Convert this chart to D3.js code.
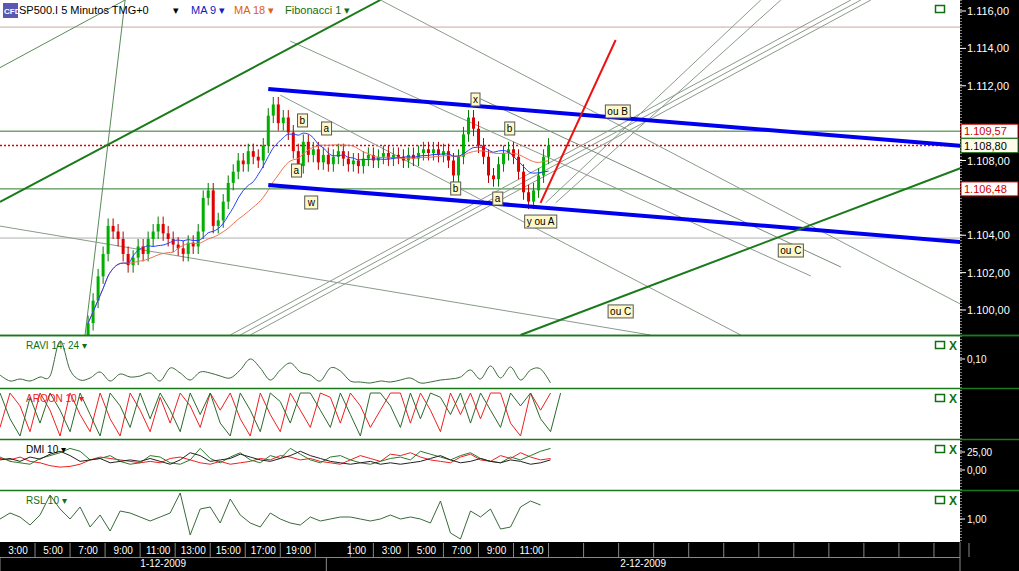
<!DOCTYPE html>
<html><head><meta charset="utf-8">
<script src="https://cdn.jsdelivr.net/npm/d3@7"></script>
<style>body{margin:0;background:#fff}svg{display:block;font-family:Arial,"Liberation Sans",sans-serif}</style>
</head><body><svg id="c" width="1019" height="571"></svg>
<script>
// ---------- DATA ----------
const closes=[1.0993,1.1005,1.1018,1.1030,1.1045,1.1042,1.1038,1.1030,1.1024,1.1028,1.1034,1.1030,1.1038,1.1042,1.1046,1.1041,1.1038,1.1035,1.1033,1.1030,1.1036,1.1034,1.1042,1.1060,1.1064,1.1045,1.1048,1.1058,1.1068,1.1074,1.1080,1.1078,1.1085,1.1082,1.1080,1.1088,1.1104,1.1110,1.1100,1.1103,1.1095,1.1085,1.1077,1.1090,1.1083,1.1086,1.1079,1.1083,1.1078,1.1082,1.1085,1.1081,1.1078,1.1080,1.1077,1.1081,1.1083,1.1080,1.1082,1.1084,1.1081,1.1083,1.1082,1.1080,1.1083,1.1081,1.1084,1.1086,1.1084,1.1086,1.1083,1.1085,1.1080,1.1072,1.1082,1.1094,1.1103,1.1097,1.1088,1.1082,1.1072,1.1070,1.1078,1.1084,1.1086,1.1082,1.1074,1.1063,1.1058,1.1064,1.1072,1.1082,1.1088];
const firstOpen=1.0985;
const wick=0.0004;
const priceTicks=[1.100,1.102,1.104,1.108,1.112,1.114,1.116];
const timeTicks=["3:00","5:00","7:00","9:00","11:00","13:00","15:00","17:00","19:00","","1:00","3:00","5:00","7:00","9:00","11:00","","","","","","","","","","","",""];
const timeTickIdx=[-14,-7,0,7,14,21,28,35,42,49,53.6,60.6,67.6,74.6,81.6,88.6,95.6,102.6,109.6,116.6,123.6,130.6,137.6,144.6,151.6,158.6,165.6,172.6];
const dates=[{t:"1-12-2009",a:-17.6,b:47.6},{t:"2-12-2009",a:47.6,b:174.2}];
// trendlines [i1,p1,i2,p2,color,width]
const trendlines=[
 [36,1.11183,174.4,1.10878,"#0000ee",4],
 [36,1.10669,174.4,1.10364,"#0000ee",4],
 [-17.6,1.10578,58.4,1.11659,"#1a7a1a",2],
 [86.4,1.09866,174.4,1.10760,"#1a7a1a",2],
 [90.4,1.10573,105.4,1.11445,"#ee1111",2],
 [-17.6,1.11297,7.4,1.11659,"#5a8a5a",1],
 [-0.6,1.09866,7.4,1.11659,"#5a8a5a",1],
 [28.4,1.09866,152.4,1.11659,"#8a9a8a",1],
 [30.4,1.09866,154.4,1.11659,"#8a9a8a",1],
 [32.4,1.09866,156.4,1.11659,"#8a9a8a",1],
 [91.4,1.10573,134.4,1.11659,"#8a9a8a",1],
 [93.4,1.10573,138.4,1.11659,"#8a9a8a",1],
 [40.4,1.11439,144.4,1.10182,"#8a9a8a",1],
 [58.4,1.11659,174.4,1.10030,"#8a9a8a",1],
 [78.4,1.11130,150.4,1.10230,"#7a8a7a",1],
 [-17.6,1.10449,112.4,1.09866,"#8a9a8a",1],
 [38.4,1.11150,130.4,1.09866,"#8a9a8a",1]
];
const levels=[[1.11514,"#c9a9a0",""],[1.10957,"#2a7a2a",""],[1.10648,"#2a7a2a",""],[1.10385,"#b0b0b0",""],[1.1088,"#dd0000","2,2"]];
const notes=[["x",77.4,1.11129],["b",42.8,1.11017],["a",47.6,1.10974],["b",84.2,1.10974],["a",41.6,1.10749],["b",73.4,1.10653],["a",81.8,1.10599],["w",44.6,1.10578],["y ou A",90.4,1.10476],["ou B",105.8,1.11065],["ou C",140.4,1.10321],["ou C",106.4,1.09995]];
const tags=[[1.10957,"1.109,57","#fff","#cc0000","#cc0000"],[1.1088,"1.108,80","#fffbe8","#000","#2a7a2a"],[1.10648,"1.106,48","#fff","#cc0000","#cc0000"]];
const ravi=[.036,.012,.02,.012,.028,.032,.172,.056,.016,.024,.048,.012,.04,.028,.032,.044,.012,.064,.044,.016,.048,.044,.032,.024,.056,.1,.064,.016,.056,.084,.048,.036,.012,.064,.052,.012,.008,.004,.012,.008,.016,.024,.004,.008,.016,.02,.028,.056,.02,.072,.024,.068,.016,.056,.06,.004];
const aroonUp=[100,40,0,90,30,100,60,10,100,50,0,100,70,20,100,40,100,60,10,100,50,100,30,0,100,60,10,100,80,30,100,100,60,20,100,50,0,100,100,70,20,100,40,100,90,50,100,30,100,60,20,100,70,100,40,10,100];
const aroonDn=[20,100,70,10,100,60,0,100,50,10,100,40,0,100,60,10,90,30,100,70,20,100,60,100,40,0,100,50,10,100,60,20,100,90,30,100,70,20,60,100,100,30,100,60,10,100,50,100,40,100,100,30,0,100,60,100];
const dmiBlack=[14,16,12,18,15,22,26,20,12,14,16,10,12,14,12,16,12,8,14,24,20,12,14,16,22,18,14,12,16,20,26,20,16,12,10,8,10,12,8,10,8,10,12,16,20,14,10,12,16,12,10,14,12,8,10,14];
const dmiGreen=[18,12,10,8,16,20,24,30,26,14,16,20,12,8,10,20,18,10,8,14,30,16,10,18,24,14,10,20,16,30,22,14,10,18,20,14,10,8,12,16,18,14,26,22,18,14,20,24,16,12,10,18,14,20,26,30];
const dmiRed=[16,14,18,12,10,6,4,5,8,14,18,16,14,12,10,12,10,16,18,14,10,8,12,8,10,12,16,14,20,18,14,16,12,10,8,14,20,16,12,22,20,24,18,14,12,10,18,22,14,12,20,16,24,18,14,16];
const rsl=[1.0,1.003,1.001,.997,1.002,1.012,1.005,1.0,1.006,.996,1.002,.994,1.004,1.003,1.001,.999,1.001,1.003,1.013,.992,1.005,1.006,.998,1.010,1.002,.998,.996,1.003,1.0,.998,.997,1.001,.999,1.0,1.001,1.001,1.0,.999,1.0,1.002,1.0,1.001,1.0,.998,1.009,.993,.990,1.004,1.001,1.005,.995,.996,1.006,1.009,1.007];

// ---------- SETUP ----------
const svg=d3.select("#c");
const W=1019,AX=960;
const x=d3.scaleLinear().domain([-17.6,174.2]).range([0,AX]);
const y=d3.scaleLinear().domain([1.116,1.100]).range([11,310]);
const panels={main:[0,335],ravi:[336,388],aroon:[389,439],dmi:[440,490],rsl:[491,542]};
svg.append("defs").append("clipPath").attr("id","mc").append("rect").attr("width",AX).attr("height",335);
const g=svg.append("g").attr("clip-path","url(#mc)");

levels.forEach(l=>g.append("line").attr("x1",0).attr("x2",AX).attr("y1",y(l[0])).attr("y2",y(l[0])).attr("stroke",l[1]).attr("stroke-width",l[2]?1.5:1).attr("stroke-dasharray",l[2]||null));
trendlines.filter(t=>t[5]===1).forEach(t=>g.append("line").attr("x1",x(t[0])).attr("y1",y(t[1])).attr("x2",x(t[2])).attr("y2",y(t[3])).attr("stroke",t[4]).attr("stroke-width",1));

const bars=closes.map((c,i)=>{const o=i?closes[i-1]:firstOpen;return{i,o,c,h:Math.max(o,c)+wick,l:Math.min(o,c)-wick};});
g.selectAll(".w").data(bars).join("line").attr("x1",d=>x(d.i)).attr("x2",d=>x(d.i)).attr("y1",d=>y(d.h)).attr("y2",d=>y(d.l)).attr("stroke",d=>d.c>=d.o?"#007a00":"#b00000");
g.selectAll(".b").data(bars).join("rect").attr("x",d=>x(d.i)-1.5).attr("width",3).attr("y",d=>y(Math.max(d.o,d.c))).attr("height",d=>Math.max(1,Math.abs(y(d.o)-y(d.c)))).attr("fill",d=>d.c>=d.o?"#00b000":"#e00000");
function ma(n){return closes.map((c,i)=>{const s=closes.slice(Math.max(0,i-n+1),i+1);return[i,d3.mean(s)];});}
const ln=d3.line().x(d=>x(d[0])).y(d=>y(d[1])).curve(d3.curveMonotoneX);
g.append("path").attr("d",ln(ma(18))).attr("fill","none").attr("stroke","#f07050").attr("stroke-width",1);
g.append("path").attr("d",ln(ma(9))).attr("fill","none").attr("stroke","#2040ff").attr("stroke-width",1);
trendlines.filter(t=>t[5]>1).forEach(t=>g.append("line").attr("x1",x(t[0])).attr("y1",y(t[1])).attr("x2",x(t[2])).attr("y2",y(t[3])).attr("stroke",t[4]).attr("stroke-width",t[5]));

notes.forEach(n=>{const t=g.append("text").attr("x",x(n[1])).attr("y",y(n[2])+4).attr("text-anchor","middle").attr("font-size",10).text(n[0]);
 const bb=t.node().getBBox();g.insert("rect",()=>t.node()).attr("x",bb.x-2).attr("y",bb.y-1).attr("width",bb.width+4).attr("height",bb.height+2).attr("fill","#fff8c8").attr("stroke","#555");});

// header
svg.append("rect").attr("x",3).attr("y",3).attr("width",15).attr("height",15).attr("fill","#5a58b0");
svg.append("text").attr("x",4).attr("y",14).attr("font-size",8).attr("fill","#fff").attr("font-weight","bold").text("CFD");
const hdr=[["SP500.I 5 Minutos TMG+0",19,"#000"],["▾",173,"#000"],["MA 9 ▾",191,"#1020c0"],["MA 18 ▾",234,"#e06010"],["Fibonacci 1 ▾",285,"#107010"]];
hdr.forEach(h=>svg.append("text").attr("x",h[1]).attr("y",14).attr("font-size",11).attr("fill",h[2]).text(h[0]));
svg.append("rect").attr("x",935.5).attr("y",5.5).attr("width",9).attr("height",7).attr("fill","none").attr("stroke","#107010").attr("stroke-width",1.5);

// right axis
svg.append("rect").attr("x",AX).attr("y",0).attr("width",W-AX).attr("height",571).attr("fill","#000");
svg.append("line").attr("x1",AX+1).attr("x2",AX+1).attr("y1",0).attr("y2",542).attr("stroke","#fff").attr("stroke-dasharray","1,2");
const fmtP=p=>{const s=(p*1000).toFixed(2).split(".");return "1."+s[0].slice(1)+","+s[1];};
priceTicks.forEach(p=>{svg.append("line").attr("x1",AX).attr("x2",AX+6).attr("y1",y(p)).attr("y2",y(p)).attr("stroke","#fff");
 svg.append("text").attr("x",AX+7).attr("y",y(p)+4).attr("font-size",11).attr("fill","#fff").text(fmtP(p));});
tags.forEach(t=>{svg.append("rect").attr("x",AX+1).attr("y",y(t[0])-7).attr("width",57).attr("height",14).attr("fill",t[2]).attr("stroke",t[4]);
 svg.append("text").attr("x",AX+4).attr("y",y(t[0])+4).attr("font-size",11).attr("fill",t[3]).text(t[1]);});

// indicator panels
const ix=k=>x(-17.6+k*2);
function panel(key,label,lcolor){const [t,b]=panels[key];
 svg.append("line").attr("x1",0).attr("x2",W).attr("y1",t-0.5).attr("y2",t-0.5).attr("stroke","#1a7a1a").attr("stroke-width",1.5);
 svg.append("text").attr("x",26).attr("y",t+13).attr("font-size",10).attr("fill",lcolor).text(label);
 svg.append("rect").attr("x",935.5).attr("y",t+5.5).attr("width",9).attr("height",7).attr("fill","none").attr("stroke","#107010").attr("stroke-width",1.5);
 svg.append("text").attr("x",949).attr("y",t+14).attr("font-size",12).attr("font-weight","bold").attr("fill","#107010").text("X");}
function series(arr,sc,col,curve){svg.append("path").attr("d",d3.line().x((d,k)=>ix(k)).y(d=>sc(d)).curve(curve||d3.curveLinear)(arr)).attr("fill","none").attr("stroke",col).attr("stroke-width",1);}
function axLab(v,sc,txt){svg.append("line").attr("x1",AX).attr("x2",AX+5).attr("y1",sc(v)).attr("y2",sc(v)).attr("stroke","#fff");
 svg.append("text").attr("x",AX+7).attr("y",sc(v)+4).attr("font-size",10).attr("fill","#fff").text(txt);}
svg.append("line").attr("x1",0).attr("x2",W).attr("y1",335.5).attr("y2",335.5).attr("stroke","#1a7a1a").attr("stroke-width",1.5);
const yr=d3.scaleLinear().domain([0,0.1]).range([384,359]);
series(ravi,yr,"#3a6a3a",d3.curveCardinal);
panel("ravi","RAVI 14; 24 ▾","#107010");axLab(0.1,yr,"0,10");
const ya=d3.scaleLinear().domain([0,100]).range([436,393]);
series(aroonDn,ya,"#ee2020");series(aroonUp,ya,"#2a6a2a");
panel("aroon","AROON 10 ▾","#ee2020");
const yd=d3.scaleLinear().domain([0,25]).range([470,452]);
series(dmiRed,yd,"#ee2020");series(dmiGreen,yd,"#2a7a2a");series(dmiBlack,yd,"#222");
panel("dmi","DMI 10 ▾","#000");axLab(25,yd,"25,00");axLab(0,yd,"0,00");
const ys=d3.scaleLinear().domain([1.0,1.012]).range([519,495]);
series(rsl,ys,"#3a6a3a");
panel("rsl","RSL 10 ▾","#107010");axLab(1,ys,"1,00");

// bottom time axis
svg.append("rect").attr("x",0).attr("y",542).attr("width",W).attr("height",29).attr("fill","#000");
timeTickIdx.forEach((t,k)=>{const cx=x(t);
 svg.append("line").attr("x1",cx+17).attr("x2",cx+17).attr("y1",543).attr("y2",557).attr("stroke","#888");
 svg.append("text").attr("x",cx).attr("y",554).attr("font-size",10).attr("text-anchor","middle").attr("fill","#fff").text(timeTicks[k]);});
svg.append("line").attr("x1",0).attr("x2",AX).attr("y1",557.5).attr("y2",557.5).attr("stroke","#888");
dates.forEach(d=>{svg.append("line").attr("x1",x(d.a)).attr("x2",x(d.a)).attr("y1",557).attr("y2",571).attr("stroke","#888");
 svg.append("text").attr("x",(x(d.a)+x(d.b))/2).attr("y",567).attr("font-size",10).attr("text-anchor","middle").attr("fill","#fff").text(d.t);});
svg.append("line").attr("x1",AX).attr("x2",AX).attr("y1",542).attr("y2",571).attr("stroke","#888");
</script></body></html>
